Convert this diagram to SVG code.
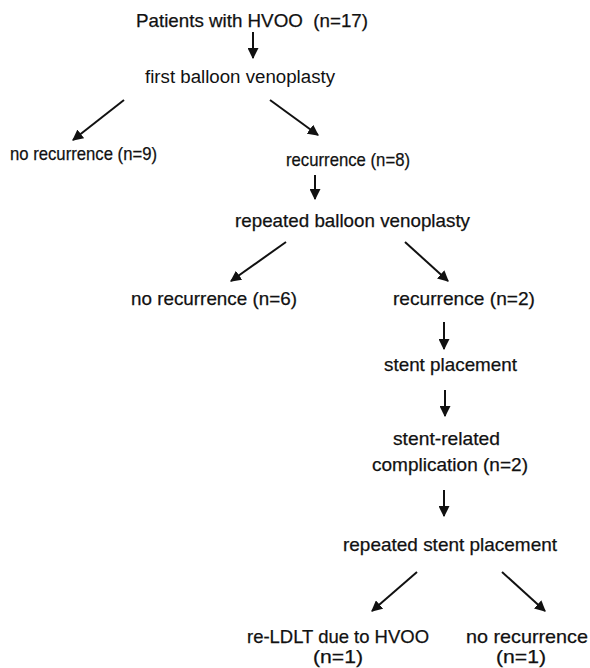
<svg xmlns="http://www.w3.org/2000/svg" width="590" height="668" viewBox="0 0 590 668">
<style>
text{font-family:"Liberation Sans",Arial,sans-serif;font-size:19px;fill:#111;stroke:#111;stroke-width:0.25;}
.c line{stroke:#111;stroke-width:2;marker-end:url(#ah);}
</style>
<defs>
<marker id="ah" viewBox="0 0 10 10" refX="9" refY="5" markerWidth="5.5" markerHeight="5.5" orient="auto" markerUnits="strokeWidth">
<path d="M0,0 L10,5 L0,10 z" fill="#111"/>
</marker>
</defs>
<rect width="590" height="668" fill="#fff"/>
<g id="n1"><text x="136" y="27" textLength="232" lengthAdjust="spacingAndGlyphs" xml:space="preserve">Patients with HVOO  (n=17)</text></g>
<g id="n2"><text x="145" y="83" textLength="190" lengthAdjust="spacingAndGlyphs" style="font-size:18px;stroke-width:0">first balloon venoplasty</text></g>
<g id="n3"><text x="10" y="160" textLength="147" lengthAdjust="spacingAndGlyphs">no recurrence (n=9)</text></g>
<g id="n4"><text x="286" y="166" textLength="124" lengthAdjust="spacingAndGlyphs">recurrence (n=8)</text></g>
<g id="n5"><text x="235" y="227" textLength="235" lengthAdjust="spacingAndGlyphs">repeated balloon venoplasty</text></g>
<g id="n6"><text x="131" y="305" textLength="166" lengthAdjust="spacingAndGlyphs">no recurrence (n=6)</text></g>
<g id="n7"><text x="393" y="305" textLength="142" lengthAdjust="spacingAndGlyphs">recurrence (n=2)</text></g>
<g id="n8"><text x="384" y="371" textLength="133" lengthAdjust="spacingAndGlyphs">stent placement</text></g>
<g id="n9"><text x="393" y="445" textLength="107" lengthAdjust="spacingAndGlyphs">stent-related</text><text x="372" y="471" textLength="156" lengthAdjust="spacingAndGlyphs">complication (n=2)</text></g>
<g id="n10"><text x="343" y="551" textLength="214" lengthAdjust="spacingAndGlyphs">repeated stent placement</text></g>
<g id="n11"><text x="247" y="643" textLength="182" lengthAdjust="spacingAndGlyphs">re-LDLT due to HVOO</text><text x="338" y="663" text-anchor="middle" textLength="50" lengthAdjust="spacingAndGlyphs">(n=1)</text></g>
<g id="n12"><text x="466" y="643" textLength="122" lengthAdjust="spacingAndGlyphs">no recurrence</text><text x="521" y="663" text-anchor="middle" textLength="50" lengthAdjust="spacingAndGlyphs">(n=1)</text></g>
<g class="c" id="connectors">
<line x1="253" y1="32" x2="253" y2="58"/>
<line x1="124" y1="100" x2="73" y2="140"/>
<line x1="270" y1="100" x2="318" y2="135"/>
<line x1="315" y1="175" x2="315" y2="199"/>
<line x1="286" y1="242" x2="231" y2="281"/>
<line x1="405" y1="242" x2="448" y2="281"/>
<line x1="444" y1="322" x2="444" y2="349"/>
<line x1="445" y1="390" x2="445" y2="416"/>
<line x1="444" y1="490" x2="444" y2="516"/>
<line x1="417" y1="572" x2="372" y2="611"/>
<line x1="502" y1="572" x2="545" y2="611"/>
</g>
</svg>
